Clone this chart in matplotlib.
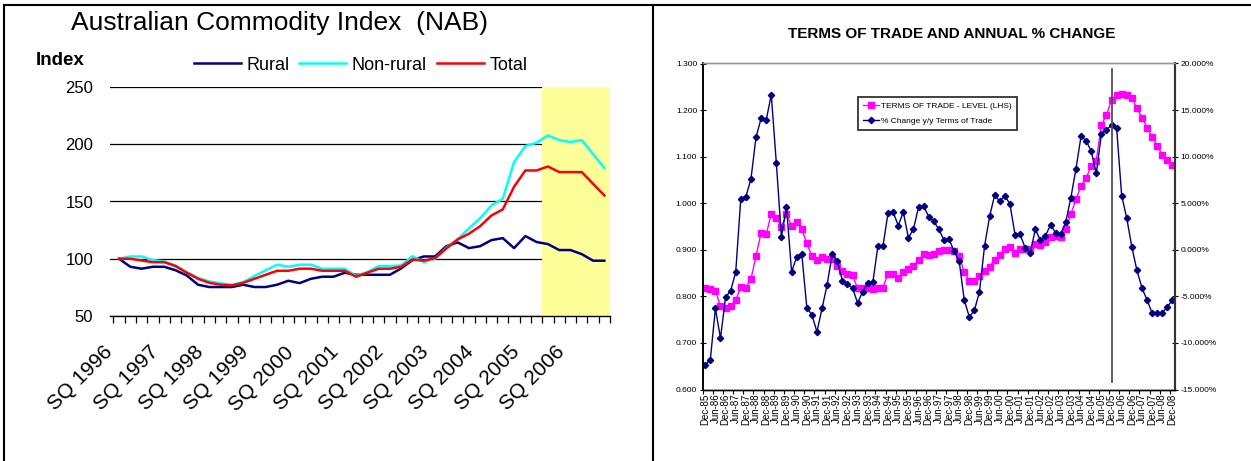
import matplotlib
matplotlib.use("Agg")
import matplotlib.pyplot as plt
from matplotlib.lines import Line2D

plt.rcParams["font.family"] = ["Liberation Sans", "DejaVu Sans"]

W, H, DPI = 1251, 461, 100

# NAB commodity index, quarterly, Sep 1996 to Jun 2007
nab_quarters = [f"{q} {y}" for y in range(1996, 2008) for q in ("MQ", "JQ", "SQ", "DQ")][2:46]
rural = [100, 93, 91.3, 93, 93, 90, 85.4, 77.3, 75.3, 75.3, 75.3, 77.3, 75.3, 75.3,
         77.3, 80.8, 78.7, 82.5, 84.3, 84.3, 87.8, 86, 86, 86, 86, 91.6, 98.8, 102,
         102, 111, 114.3, 109.3, 111, 116.3, 118, 109.3, 119.8, 114.6, 112.8, 107.6,
         107.6, 104, 98.3, 98.3]
non_rural = [100, 102, 102, 98.8, 97.7, 94.2, 88.4, 83.4, 80.2, 78.5, 77.3, 79.6, 84.9,
             90, 94.8, 93, 94.8, 94.8, 91.3, 91.3, 91.3, 84.9, 88.4, 93.6, 93.6, 94.2,
             102.3, 97, 100, 109.6, 116.9, 126.5, 135.5, 146.6, 152.4, 184.4, 198.4,
             201.3, 207.7, 203.6, 201.9, 203.6, 191.4, 179.2]
total = [100, 100, 98.5, 97, 97, 93.6, 87.8, 82.5, 79, 77.3, 76.7, 79, 82.5, 86, 89.5,
         89.5, 91.3, 91.3, 89.5, 89.5, 89.5, 84.3, 87.8, 91.3, 91.3, 93, 99.4, 98.3,
         100.6, 109, 116.9, 121.8, 128.5, 137.8, 143.1, 162.9, 177.1, 177.1, 180.6,
         175.7, 175.7, 175.7, 165.5, 155.3]
forecast_from = "MQ 2006"

# Terms of trade, quarterly, Dec 1985 to Dec 2008
tot_quarters = [f"{m}-{y % 100:02d}" for y in range(1985, 2009)
                for m in ("Mar", "Jun", "Sep", "Dec")][3:96]
tot_level = [0.819, 0.816, 0.812, 0.779, 0.776, 0.779, 0.792, 0.820, 0.819, 0.837,
             0.887, 0.937, 0.933, 0.977, 0.969, 0.950, 0.976, 0.952, 0.960, 0.945,
             0.914, 0.886, 0.877, 0.884,
             0.880, 0.880, 0.866, 0.855, 0.849, 0.846, 0.817, 0.817, 0.818, 0.816,
             0.819, 0.819, 0.849, 0.848, 0.840, 0.852, 0.858, 0.866, 0.878, 0.890,
             0.888, 0.892, 0.897,
             0.899, 0.899, 0.897, 0.887, 0.852, 0.834, 0.833, 0.844, 0.854, 0.864,
             0.879, 0.889, 0.902, 0.905, 0.894, 0.902, 0.902, 0.902, 0.912, 0.910,
             0.917, 0.927, 0.929,
             0.927, 0.945, 0.977, 1.008, 1.038, 1.054, 1.080, 1.091, 1.168, 1.189,
             1.222, 1.233, 1.235, 1.232, 1.226, 1.204, 1.184, 1.162, 1.143, 1.123,
             1.104, 1.092, 1.081]
tot_change = [-12.4, -11.8, -6.3, -9.5, -5.1, -4.4, -2.4, 5.5, 5.7, 7.6, 12.1, 14.1,
              13.9, 16.65, 9.3, 1.4, 4.6, -2.35, -0.8, -0.4, -6.2, -7.0, -8.8, -6.3,
              -3.75, -0.5, -1.2, -3.3, -3.7, -4.1, -5.7, -4.5, -3.6, -3.5, 0.4, 0.4,
              4.0, 4.05, 2.6, 4.05, 1.3, 2.2, 4.6, 4.7, 3.55, 3.05, 2.2,
              1.05, 1.15, -0.15, -1.2, -5.4, -7.2, -6.5, -4.5, 0.4, 3.6, 5.9, 5.2,
              5.8, 4.9, 1.6, 1.65, 0.2, -0.3, 2.2, 1.0, 1.5, 2.7, 1.8,
              1.7, 3.0, 5.6, 8.7, 12.2, 11.7, 10.6, 8.2, 12.4, 12.9, 13.35, 13.1, 5.8,
              3.4, 0.3, -2.2, -4.1, -5.4, -6.8, -6.8, -6.8, -6.1, -5.4]
marker_quarter = "Dec-05"

fig = plt.figure(figsize=(W / DPI, H / DPI), dpi=DPI)


def fig_line(x0, y0, x1, y1, lw=1.5):
    fig.add_artist(Line2D([x0 / W, x1 / W], [1 - y0 / H, 1 - y1 / H],
                          transform=fig.transFigure, color="black", lw=lw))


# panel borders
fig_line(4, 5, W, 5)
fig_line(4, 5, 4, H)
fig_line(652.5, 5, 652.5, H)

# ---- left panel: commodity index ----
ax1 = fig.add_axes([110 / W, 1 - 316 / H, 500 / W, 229 / H])
x1 = list(range(len(nab_quarters)))
ax1.set_axisbelow(True)
ax1.yaxis.grid(True, color="black", lw=0.9)
ax1.axvspan(nab_quarters.index(forecast_from) - 0.5, len(nab_quarters) - 0.5,
            color="#FFFF99", lw=0, zorder=1)
l_r, = ax1.plot(x1, rural, color="#000080", lw=1.8, zorder=3)
l_n, = ax1.plot(x1, non_rural, color="#00FFFF", lw=1.8, zorder=3)
l_t, = ax1.plot(x1, total, color="#FF0000", lw=1.8, zorder=3)

ax1.set_xlim(-0.5, len(nab_quarters) - 0.5)
ax1.set_ylim(50, 250)
ax1.set_yticks([50, 100, 150, 200, 250])
ax1.tick_params(axis="y", length=0, pad=12, labelsize=12)
# label anchors sit a little left of each September quarter (invisible ticks)
ax1.set_xticks([i - 0.8 for i in x1[::4]])
ax1.set_xticklabels(nab_quarters[::4], rotation=45, ha="right", va="center",
                    rotation_mode="anchor", fontsize=15)
ax1.set_xticks([i - 0.5 for i in range(len(nab_quarters) + 1)], minor=True)
ax1.tick_params(axis="x", which="major", length=0, pad=24)
ax1.tick_params(axis="x", which="minor", length=5, width=0.9, direction="out")
for s in ("left", "right", "top"):
    ax1.spines[s].set_visible(False)
ax1.spines["bottom"].set_linewidth(1)

fig.text(71 / W, 1 - 30 / H, "Australian Commodity Index  (NAB)", fontsize=19,
         va="baseline")
fig.text(35.5 / W, 1 - 65 / H, "Index", fontsize=13.5, weight="bold", va="baseline")
ax1.legend([l_r, l_n, l_t], ["Rural", "Non-rural", "Total"], ncol=3,
           loc="center left", bbox_to_anchor=(194 / W, 1 - 65 / H),
           bbox_transform=fig.transFigure, frameon=False, fontsize=13,
           handlelength=2.6, handletextpad=0.3, columnspacing=0.55,
           borderpad=0, borderaxespad=0)

# ---- right panel: terms of trade ----
ax2 = fig.add_axes([702.7 / W, 1 - 389.5 / H, 472.3 / W, 326 / H])
x2 = list(range(len(tot_quarters)))
p_lvl, = ax2.plot(x2, tot_level, color="#FF00FF", lw=1, marker="s", ms=4,
                  mec="#FF00FF", mfc="#FF00FF")
ax2.set_xlim(-0.5, len(tot_quarters) - 0.5)
ax2.set_ylim(0.6, 1.3)
ax2.set_yticks([0.6, 0.7, 0.8, 0.9, 1.0, 1.1, 1.2, 1.3])
ax2.set_yticklabels([f"{v:.3f}" for v in ax2.get_yticks()])
ax2.tick_params(axis="y", direction="inout", length=4, width=0.8, pad=2, labelsize=6)
ax2.set_xticks(x2[::2])
ax2.set_xticklabels(tot_quarters[::2], rotation=90, fontsize=7)
ax2.set_xticks([i - 0.5 for i in range(0, len(tot_quarters), 2)], minor=True)
ax2.tick_params(axis="x", which="major", length=0, pad=3)
ax2.tick_params(axis="x", which="minor", length=3, width=0.8, direction="out")

ax3 = ax2.twinx()
p_chg, = ax3.plot(x2, tot_change, color="#000080", lw=1, marker="D", ms=3.2,
                  mec="#000080", mfc="#000080")
ax3.set_ylim(-15, 20)
ax3.set_yticks([-15, -10, -5, 0, 5, 10, 15, 20])
ax3.set_yticklabels([f"{v:.3f}%" for v in ax3.get_yticks()])
ax3.tick_params(axis="y", direction="inout", length=4, width=0.8, pad=2, labelsize=6)
ax3.axvline(tot_quarters.index(marker_quarter), ymin=0.023, ymax=0.983,
            color="#505050", lw=1.3)

for a in (ax2, ax3):
    a.spines["left"].set_linewidth(1.2)
    a.spines["right"].set_linewidth(1.5)
    a.spines["right"].set_color("#333333")
    a.spines["bottom"].set_linewidth(1)
    a.spines["top"].set_color("#999999")
    a.spines["top"].set_linewidth(1)

fig.text(952 / W, 1 - 33.5 / H, "TERMS OF TRADE AND ANNUAL % CHANGE", fontsize=11,
         weight="bold", ha="center", va="center")
leg = ax3.legend([p_lvl, p_chg],
                 ["TERMS OF TRADE - LEVEL (LHS)", "% Change y/y Terms of Trade"],
                 loc="upper left", bbox_to_anchor=(858 / W, 1 - 97 / H),
                 bbox_transform=fig.transFigure, fontsize=6, fancybox=False,
                 edgecolor="#333333", framealpha=1, borderaxespad=0,
                 handlelength=1.9, handletextpad=0.3, borderpad=0.6,
                 labelspacing=0.9)
leg.get_frame().set_linewidth(1.3)

fig.savefig("out.png", dpi=DPI)
